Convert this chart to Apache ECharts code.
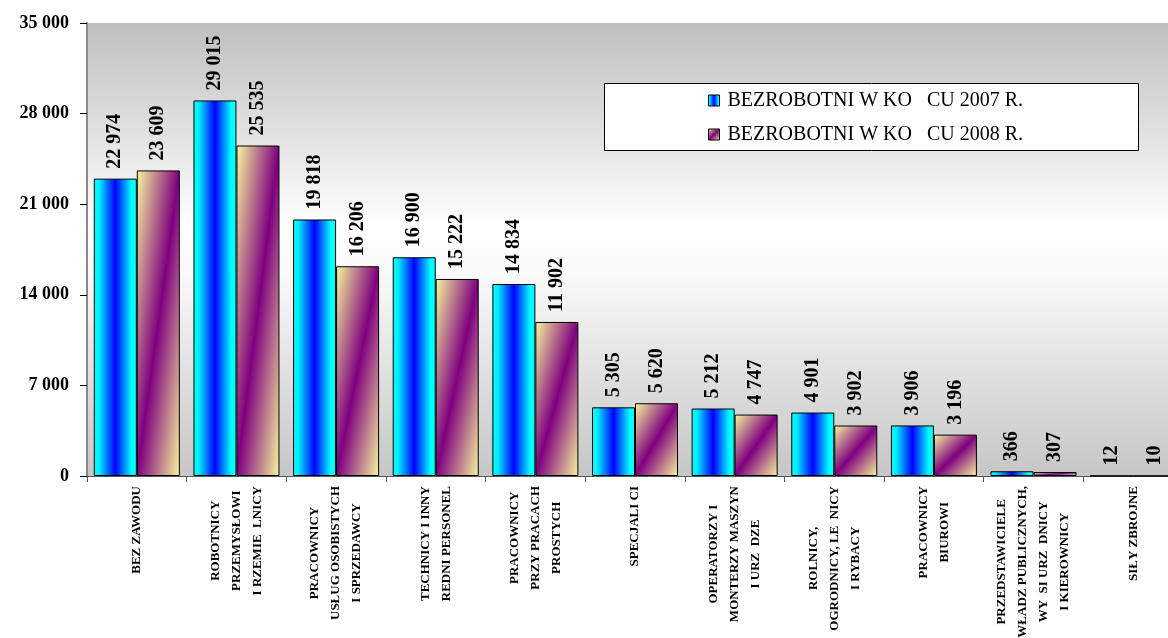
<!DOCTYPE html>
<html>
<head>
<meta charset="utf-8">
<script src="https://cdn.jsdelivr.net/npm/echarts@6/dist/echarts.min.js"></script>
<style>
html,body{margin:0;padding:0;background:#fff;}
#chart{width:1168px;height:638px;}
</style>
</head>
<body>
<div id="chart"></div>
<script>
const categories = [
  "BEZ ZAWODU",
  "ROBOTNICY\nPRZEMYSŁOWI\nI RZEMIE  LNICY",
  "PRACOWNICY\nUSŁUG OSOBISTYCH\nI SPRZEDAWCY",
  "TECHNICY I INNY\nREDNI PERSONEL",
  "PRACOWNICY\nPRZY PRACACH\nPROSTYCH",
  "SPECJALI CI",
  "OPERATORZY I\nMONTERZY MASZYN\nI URZ  DZE",
  "ROLNICY,\nOGRODNICY, LE  NICY\nI RYBACY",
  "PRACOWNICY\nBIUROWI",
  "PRZEDSTAWICIELE\nWŁADZ PUBLICZNYCH,\nWY  SI URZ  DNICY\nI KIEROWNICY",
  "SIŁY ZBROJNE"
];
const seriesNames = ["BEZROBOTNI W KO   CU 2007 R.", "BEZROBOTNI W KO   CU 2008 R."];
const values2007 = [22974, 29015, 19818, 16900, 14834, 5305, 5212, 4901, 3906, 366, 12];
const values2008 = [23609, 25535, 16206, 15222, 11902, 5620, 4747, 3902, 3196, 307, 10];
const yTicks = { min: 0, max: 35000, interval: 7000 };

const FONT = '"Liberation Serif", "Times New Roman", serif';
const fmt = v => String(v).replace(/\B(?=(\d{3})+(?!\d))/g, ' ');

const blueGrad = new echarts.graphic.LinearGradient(0, 0, 1, 0, [
  {offset: 0, color: '#00ffff'},
  {offset: 0.12, color: '#00f0ff'},
  {offset: 0.5, color: '#0000ff'},
  {offset: 0.88, color: '#00ffff'},
  {offset: 1, color: '#00ffff'}
]);

const PLOT_H = 453, BAR_W = 43;
function purpleGrad(value) {
  const h = Math.max(1, value / yTicks.max * PLOT_H), w = BAR_W;
  const s = h * h + w * w;
  return new echarts.graphic.LinearGradient(0, 0, 2 * h * h / s, 2 * w * w / s, [
    {offset: 0, color: '#f8f89c'},
    {offset: 0.5, color: '#7f007f'},
    {offset: 1, color: '#f8f89c'}
  ]);
}

const chart = echarts.init(document.getElementById('chart'));
const valueLabel = {
  show: true,
  position: 'top',
  rotate: 90,
  align: 'left',
  verticalAlign: 'middle',
  distance: 10,
  fontFamily: FONT,
  fontWeight: 'bold',
  fontSize: 20,
  color: '#000',
  formatter: p => fmt(p.value)
};

chart.setOption({
  animation: false,
  graphic: [{
    type: 'rect', z: 5,
    shape: {x: 604.5, y: 83.5, width: 534, height: 67},
    style: {fill: '#fff', stroke: '#000', lineWidth: 1}
  }],
  legend: {
    z: 10,
    orient: 'vertical',
    left: 703,
    top: 84,
    itemWidth: 11,
    itemHeight: 11,
    itemGap: 11,
    textStyle: {fontFamily: FONT, fontSize: 20, color: '#000', lineHeight: 23, padding: [0, 0, 0, 3]},
    data: [
      {name: seriesNames[0], icon: 'rect', itemStyle: {color: blueGrad, borderColor: '#000', borderWidth: 1}},
      {name: seriesNames[1], icon: 'rect', itemStyle: {color: new echarts.graphic.LinearGradient(0, 0, 1, 1, [
        {offset: 0, color: '#f8f89c'}, {offset: 0.5, color: '#7f007f'}, {offset: 1, color: '#f8f89c'}]), borderColor: '#000', borderWidth: 1}}
    ]
  },
  grid: {
    left: 87, top: 23, width: 1096, height: 453,
    outerBoundsMode: 'none',
    containLabel: false,
    show: true, borderWidth: 0,
    backgroundColor: new echarts.graphic.LinearGradient(0, 0, 0, 1, [
      {offset: 0, color: '#bfbfbf'},
      {offset: 0.45, color: '#ffffff'},
      {offset: 0.55, color: '#fafafa'},
      {offset: 1, color: '#c6c6c6'}
    ])
  },
  xAxis: {
    type: 'category',
    data: categories,
    axisLine: {lineStyle: {color: '#555', width: 1}},
    axisTick: {show: true, length: 6, lineStyle: {color: '#555'}},
    axisLabel: {
      interval: 0,
      rotate: 90,
      margin: 10,
      fontFamily: FONT,
      fontWeight: 'bold',
      fontSize: 13,
      color: '#000',
      formatter: v => v.split('\n').map(l => '{c|' + l + '}').join('\n'),
      rich: {c: {align: 'center', fontFamily: FONT, fontWeight: 'bold', fontSize: 13, lineHeight: 21, color: '#000'}}
    }
  },
  yAxis: {
    type: 'value',
    min: yTicks.min, max: yTicks.max, interval: yTicks.interval,
    splitLine: {show: false},
    axisLine: {show: true, lineStyle: {color: '#888', width: 2}},
    axisTick: {show: true, length: 7, lineStyle: {color: '#000'}},
    axisLabel: {
      margin: 18,
      fontFamily: FONT, fontWeight: 'bold', fontSize: 18, color: '#000',
      formatter: v => fmt(v)
    }
  },
  series: [
    {
      name: seriesNames[0], type: 'bar', data: values2007,
      barWidth: BAR_W, barGap: '0%',
      itemStyle: {color: blueGrad, borderColor: '#000', borderWidth: 1},
      label: valueLabel
    },
    {
      name: seriesNames[1], type: 'bar', data: values2008,
      barWidth: BAR_W, barGap: '0%',
      itemStyle: {color: p => purpleGrad(p.value), borderColor: '#000', borderWidth: 1},
      label: valueLabel
    }
  ]
});
</script>
</body>
</html>
